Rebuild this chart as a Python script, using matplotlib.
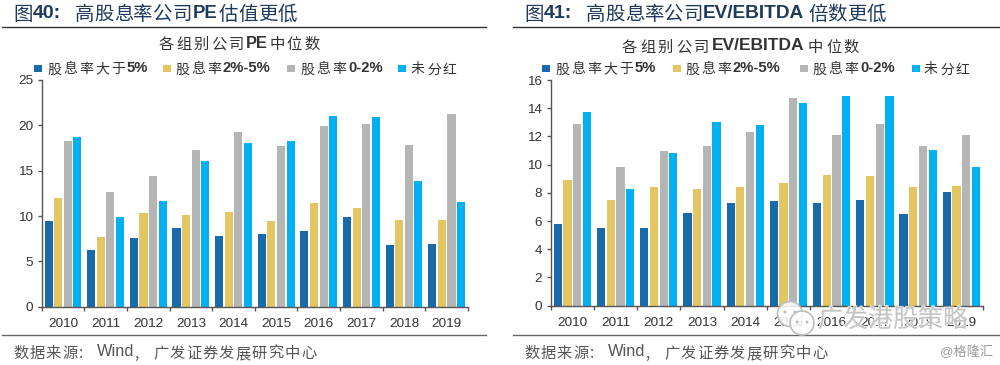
import matplotlib
matplotlib.use("Agg")
import matplotlib.pyplot as plt
import matplotlib.patheffects as pe
from matplotlib.patches import Rectangle, Ellipse
import numpy as np

W, H = 1000, 365
CJK = "Noto Sans CJK SC"
LAT = "Liberation Sans"

years = ["2010", "2011", "2012", "2013", "2014", "2015", "2016", "2017", "2018", "2019"]
colors = ["#186BA8", "#E3C662", "#B5B5B5", "#00B0F0"]

pe_high = [9.4, 6.3, 7.6, 8.7, 7.8, 8.0, 8.4, 9.9, 6.8, 6.9]
pe_mid = [12.0, 7.7, 10.3, 10.1, 10.4, 9.5, 11.4, 10.9, 9.6, 9.6]
pe_low = [18.3, 12.7, 14.4, 17.3, 19.3, 17.7, 19.9, 20.2, 17.8, 21.2]
pe_none = [18.7, 9.9, 11.7, 16.1, 18.0, 18.3, 21.0, 20.9, 13.9, 11.5]

ev_high = [5.8, 5.5, 5.5, 6.6, 7.3, 7.4, 7.25, 7.5, 6.5, 8.05]
ev_mid = [8.9, 7.5, 8.4, 8.3, 8.45, 8.7, 9.3, 9.2, 8.4, 8.5]
ev_low = [12.9, 9.8, 11.0, 11.3, 12.3, 14.7, 12.1, 12.9, 11.3, 12.1]
ev_none = [13.75, 8.3, 10.8, 13.05, 12.8, 14.4, 14.85, 14.85, 11.05, 9.85]

fig = plt.figure(figsize=(W / 100, H / 100), dpi=100, facecolor="white")
renderer = fig.canvas.get_renderer()


def fx(x):
    return x / W


def fy(y):
    return 1 - y / H


def seq(x, y, segments, color, size, track=0.0, lat_scale=1.07):
    """Place text runs one after another; x, y in pixels from the top left."""
    for s, bold, latin in segments:
        if latin:
            t = fig.text(fx(x), fy(y), s, family=LAT, weight="bold" if bold else "normal",
                         fontsize=size * lat_scale, color=color, va="center", ha="left")
            x += t.get_window_extent(renderer).width + 1
        else:
            for ch in s:
                t = fig.text(fx(x), fy(y + 1.5), ch, family=CJK, fontsize=size, color=color,
                             va="center", ha="left")
                x += t.get_window_extent(renderer).width + track
    return x


def panel(left, right, top, bottom, ymax, step, data):
    ax = fig.add_axes([fx(left), fy(bottom), fx(right - left), (bottom - top) / H])
    xs = np.arange(len(years)) + 0.5
    for k, vals in enumerate(data):
        ax.bar(xs + (k - 1.5) * 0.225, vals, width=0.19, color=colors[k], linewidth=0)
    ax.set_xlim(0, len(years))
    ax.set_ylim(0, ymax)
    ax.set_yticks(np.arange(0, ymax + 0.01, step))
    ax.set_xticks(np.arange(len(years) + 1))
    ax.set_xticklabels([])
    ax.set_xticks(xs, minor=True)
    ax.set_xticklabels(years, minor=True)
    ax.tick_params(axis="x", which="major", length=3, width=1, color="#555555", direction="out")
    ax.tick_params(axis="x", which="minor", length=0, pad=8, labelsize=9.7, labelcolor="#333333")
    ax.tick_params(axis="y", length=3, width=1, color="#555555", pad=3, labelsize=9.7,
                   labelcolor="#333333")
    for lab in ax.get_xticklabels(minor=True) + ax.get_yticklabels():
        lab.set_family(LAT)
    for side in ("top", "right"):
        ax.spines[side].set_visible(False)
    for side in ("left", "bottom"):
        ax.spines[side].set_color("#555555")
        ax.spines[side].set_linewidth(1)
    ax.patch.set_alpha(0)
    return ax


panel(41.7, 468, 80, 306.7, 25, 5, [pe_high, pe_mid, pe_low, pe_none])
panel(550.7, 983, 80, 305.7, 16, 2, [ev_high, ev_mid, ev_low, ev_none])


def rule(x0, x1, y, color, lw):
    fig.add_artist(plt.Line2D([fx(x0), fx(x1)], [fy(y), fy(y)], color=color, lw=lw))


rule(2, 486, 27, "#333333", 1.0)
rule(2, 486, 335, "#666666", 1.0)
rule(513, 1000, 27, "#333333", 1.0)
rule(513, 1000, 335, "#666666", 1.0)

NAVY = "#1F3A5C"
TY = 13
seq(13, TY, [("图", False, False)], NAVY, 14)
seq(33, TY, [("40:", True, True)], NAVY, 14, lat_scale=1.0)
seq(75, TY, [("高股息率公司", False, False)], NAVY, 14)
seq(193, TY, [("PE", True, True)], NAVY, 14, lat_scale=0.95)
seq(219, TY, [("估值更低", False, False)], NAVY, 14)

seq(524, TY, [("图", False, False)], NAVY, 14)
seq(544, TY, [("41:", True, True)], NAVY, 14, lat_scale=1.0)
seq(586, TY, [("高股息率公司", False, False)], NAVY, 14)
seq(703, TY, [("EV/EBITDA", True, True)], NAVY, 14, lat_scale=0.98)
seq(808, TY, [("倍数更低", False, False)], NAVY, 14)

TXT = "#333333"
seq(159, 43, [("各组别公司", False, False), ("PE", True, True), ("中位数", False, False)], TXT, 11, 2.2)
seq(622, 46, [("各组别公司", False, False)], TXT, 11, 2.7)
seq(712, 46, [("EV/EBITDA", True, True)], TXT, 11, lat_scale=1.14)
seq(808, 46, [("中位数", False, False)], TXT, 11, 2.7)

legend_left = [(34, 47), (163, 175), (287, 300), (398, 411)]
legend_right = [(542, 555), (673, 685), (800, 812), (912, 924)]
legend_parts = [
    [("股息率大于", False, False), ("5%", True, True)],
    [("股息率", False, False), ("2%-5%", True, True)],
    [("股息率", False, False), ("0-2%", True, True)],
    [("未分红", False, False)],
]
for layout in (legend_left, legend_right):
    for k, (sx, tx) in enumerate(layout):
        fig.add_artist(Rectangle((fx(sx), fy(72)), 8 / W, 7 / H, transform=fig.transFigure,
                                 facecolor=colors[k], edgecolor="none"))
        seq(tx, 68, legend_parts[k], TXT, 10, 2.1)

FOOT = "#555555"
for x0 in (13, 524):
    seq(x0, 352, [("数据来源:", False, False)], FOOT, 11, 1.2)
    seq(x0 + 84, 352, [("Wind", False, True)], FOOT, 11, 0)
    seq(x0 + 121, 352, [(",", False, False)], FOOT, 11, 0)
    seq(x0 + 140, 352, [("广发证券发展研究中心", False, False)], FOOT, 11, 1.2)

fig.text(fx(940), fy(352), "@格隆汇", family=[LAT, CJK], fontsize=9.5, color="#9A9A9A", va="center")

# Watermark over the right-hand chart
for (cx, cy, r) in [(790, 314, 12.5), (802, 323, 12)]:
    fig.add_artist(Ellipse((fx(cx), fy(cy)), 2 * r / W, 2 * r / H, transform=fig.transFigure,
                           facecolor=(1, 1, 1, 0.85), edgecolor="#BDBDBD", lw=1.2, zorder=5))
for (cx, cy) in [(785, 312), (795, 312), (797, 322), (807, 322)]:
    fig.add_artist(Ellipse((fx(cx), fy(cy)), 3 / W, 3 / H, transform=fig.transFigure,
                           facecolor="#BDBDBD", edgecolor="none", zorder=6))
wm = fig.text(fx(818), fy(320), "广发港股策略", family=CJK, fontsize=18, color="#C4C4C4",
              va="center", ha="left", zorder=6)
wm.set_path_effects([pe.withStroke(linewidth=1.5, foreground="white", alpha=0.75)])

fig.savefig("out.png", dpi=100)
